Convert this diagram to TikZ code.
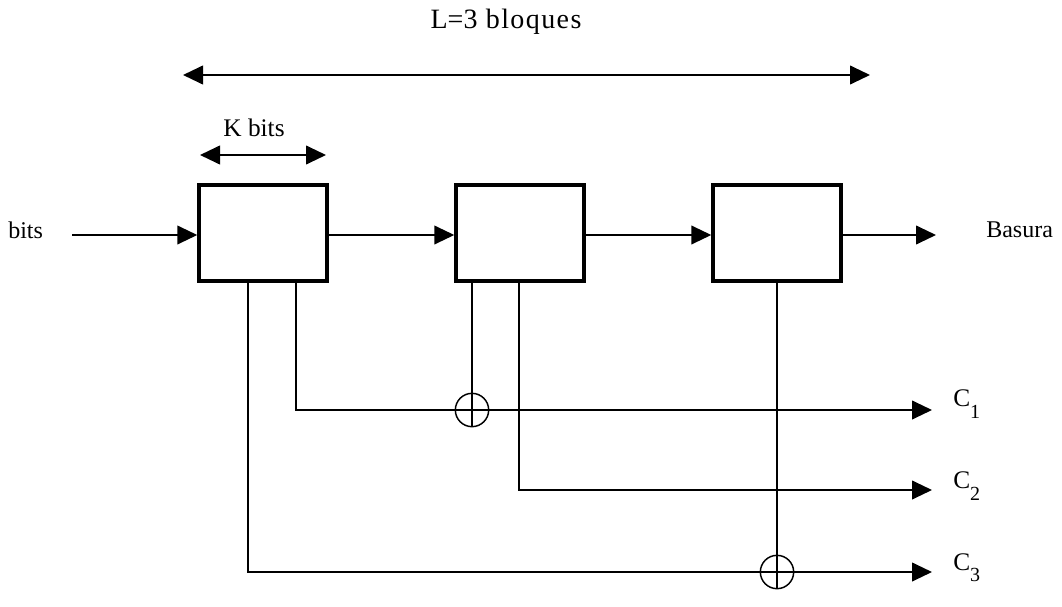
\documentclass[tikz,border=0pt]{standalone}
\usepackage{fontspec}
\setmainfont{Liberation Serif}
\usetikzlibrary{arrows.meta}
\begin{document}
\begin{tikzpicture}[x=0.75pt,y=-0.75pt,
  conn/.style={line width=1.5pt},
  arr/.style={conn,-{Triangle[length=15pt,width=14pt]}},
  darr/.style={conn,{Triangle[length=15pt,width=14pt]}-{Triangle[length=15pt,width=14pt]}},
  blk/.style={draw,line width=2.6pt,minimum width=128pt*0.75,minimum height=96pt*0.75,inner sep=0pt},
  xorc/.style={draw,line width=1.1pt,circle,minimum size=25pt,inner sep=0pt},
  lbl/.style={font=\fontsize{18}{21}\selectfont,inner sep=0pt},
  big/.style={font=\fontsize{21}{24}\selectfont,inner sep=0pt},
  clbl/.style={font=\fontsize{19}{22}\selectfont,inner sep=0pt,anchor=west}]
\useasboundingbox (0,0) rectangle (1062,606);
\node[big] (title) at (506,22) {L=3\hspace{0.3em}b\hspace{0.05em}l\hspace{0.05em}o\hspace{0.05em}q\hspace{0.05em}u\hspace{0.05em}e\hspace{0.05em}s};
\coordinate (la) at (183,75);
\coordinate (lb) at (870,75);
\draw[darr] (la) -- (lb);
\node[font=\fontsize{19}{22}\selectfont,inner sep=0pt] (kb) at (254,128) {K bits};
\coordinate (ka) at (200,155);
\coordinate (kbb) at (326,155);
\draw[darr] (ka) -- (kbb);
\node[blk] (b1) at (263,233) {};
\node[blk] (b2) at (520,233) {};
\node[blk] (b3) at (777,233) {};
\node[lbl,anchor=west] (in) at (8,230) {bits};
\coordinate (ins) at (72,235);
\node[lbl,anchor=west] (out) at (986,230) {Basura};
\coordinate (oute) at (936,235);
\draw[arr] (ins) -- (ins -| b1.west);
\draw[arr] (b1.east |- ins) -- (b2.west |- ins);
\draw[arr] (b2.east |- ins) -- (b3.west |- ins);
\draw[arr] (b3.east |- ins) -- (oute);
\node[xorc] (x1) at (472,410) {};
\node[xorc] (x2) at (777,572) {};
\draw[conn] (x1.north) -- (x1.south);
\draw[conn] (x1.west) -- (x1.east);
\draw[conn] (x2.north) -- (x2.south);
\draw[conn] (x2.west) -- (x2.east);
\node[clbl] (c1) at (953,404) {C\raisebox{-0.45em}{\fontsize{15}{18}\selectfont 1}};
\node[clbl] (c2) at (953,486) {C\raisebox{-0.45em}{\fontsize{15}{18}\selectfont 2}};
\node[clbl] (c3) at (953,568) {C\raisebox{-0.45em}{\fontsize{15}{18}\selectfont 3}};
\coordinate (e1) at (932,410);
\coordinate (e2) at (932,490);
\coordinate (e3) at (932,572);
% C1
\draw[conn] (b1.south -| 296,0) |- (x1.west);
\draw[conn] (b2.south -| x1) -- (x1.north);
\draw[arr] (x1.east) -- (e1);
% C2
\draw[arr] (b2.south -| 519,0) |- (e2);
% C3
\draw[conn] (b1.south -| 248,0) |- (x2.west);
\draw[conn] (b3.south) -- (x2.north);
\draw[arr] (x2.east) -- (e3);
\end{tikzpicture}
\end{document}
